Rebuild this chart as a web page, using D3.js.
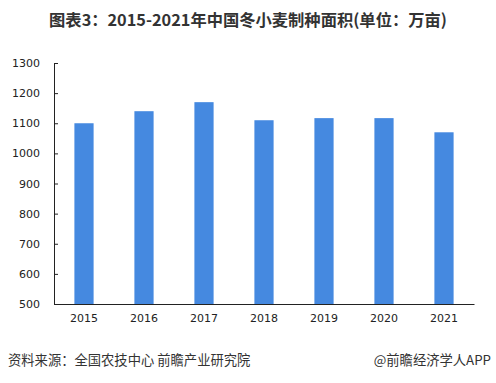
<meta charset="utf-8">
<head>
<style>
  body { margin: 0; background: #fff; }
  text { font-family: "DejaVu Sans", Verdana, sans-serif; }
</style>
</head>
<body>
<div id="chartId"></div>
</body>
<script src="https://d3js.org/d3.v7.min.js"></script>
<script>
// data
var years = ["2015", "2016", "2017", "2018", "2019", "2020", "2021"];
var area = [1100, 1140, 1170, 1110, 1117, 1117, 1070];
var yTicks = [500, 600, 700, 800, 900, 1000, 1100, 1200, 1300];

var width = 496, height = 383;
var margin = {top: 63, right: 22, bottom: 79, left: 54};

var svg = d3.select("#chartId").append("svg")
	.attr("width", width)
	.attr("height", height);

svg.append("text")
	.attr("x", 248)
	.attr("y", 26)
	.attr("text-anchor", "middle")
	.attr("font-size", 16.3)
	.attr("font-weight", "bold")
	.attr("fill", "#333")
	.style("font-family", "'Noto Sans CJK SC', sans-serif")
	.text("图表3：2015-2021年中国冬小麦制种面积(单位：万亩)");

var x = d3.scaleBand()
	.domain(years)
	.range([margin.left, width - margin.right])
	.paddingInner(0.68)
	.paddingOuter(0.34);

var y = d3.scaleLinear()
	.domain([500, 1300])
	.range([height - margin.bottom, margin.top]);

svg.selectAll("rect.bar")
	.data(area)
	.enter()
	.append("rect")
	.attr("class", "bar")
	.attr("x", function(d, i) { return x(years[i]); })
	.attr("y", function(d) { return y(d); })
	.attr("width", x.bandwidth())
	.attr("height", function(d) { return y(500) - y(d); })
	.attr("fill", "#4589e0");

// y axis
var yAxis = svg.append("g")
	.attr("transform", "translate(" + margin.left + ",0)")
	.call(d3.axisLeft(y).tickValues(yTicks).tickFormat(d3.format("d"))
		.tickSize(-4).tickPadding(14).tickSizeOuter(0));
yAxis.select(".domain").attr("stroke", "#222");
yAxis.selectAll(".tick line").attr("stroke", "#222");
yAxis.selectAll("text").attr("font-size", 11).attr("fill", "#222");

// x axis
var xAxis = svg.append("g")
	.attr("transform", "translate(0," + (height - margin.bottom) + ")")
	.call(d3.axisBottom(x).tickSize(0).tickPadding(10).tickSizeOuter(0));
xAxis.select(".domain").attr("stroke", "#222");
xAxis.selectAll("text").attr("font-size", 11).attr("fill", "#222");

// footer
svg.append("text")
	.attr("x", 8)
	.attr("y", 365)
	.attr("font-size", 13.3)
	.attr("fill", "#333")
	.style("font-family", "'Noto Sans CJK SC', sans-serif")
	.text("资料来源：全国农技中心 前瞻产业研究院");

svg.append("text")
	.attr("x", 491)
	.attr("y", 365)
	.attr("text-anchor", "end")
	.attr("font-size", 13.3)
	.attr("fill", "#333")
	.style("font-family", "'Noto Sans CJK SC', sans-serif")
	.text("@前瞻经济学人APP");
</script>
